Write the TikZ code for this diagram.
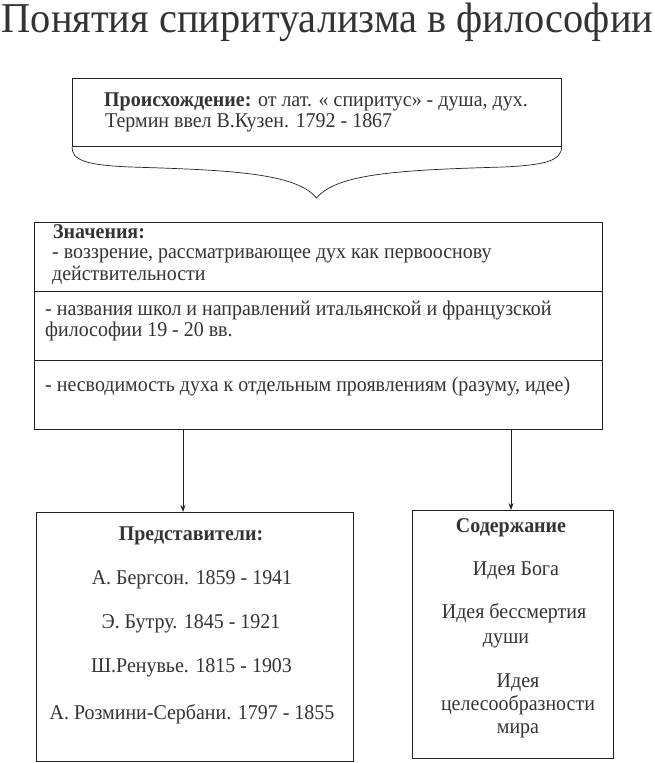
\documentclass[tikz,border=0pt]{standalone}
\usepackage{fontspec}
\setmainfont{Liberation Serif}[FakeStretch=0.95]
\usetikzlibrary{arrows.meta}
\definecolor{ink}{HTML}{333333}
\definecolor{edge}{HTML}{222222}
\begin{document}
\begin{tikzpicture}[x=1pt,y=-1pt,
  box/.style={draw=edge,line width=0.8pt,anchor=north west,inner sep=0pt},
  txt/.style={text=ink,font=\fontsize{21}{24}\selectfont,inner sep=0pt},
  lt/.style={txt,anchor=base west},
  ct/.style={txt,anchor=base},
  arr/.style={draw=edge,line width=0.8pt,-{Stealth[length=7pt,width=5pt]}}]
\useasboundingbox (0,0) rectangle (655,763);
% title
\node[text=ink,font=\fontsize{42.5}{44}\selectfont,anchor=base,inner sep=0pt] (title) at (327.5,32) {Понятия спиритуализма в философии};
% origin box
\node[box,minimum width=489pt,minimum height=68pt] (orig) at (72,78) {};
\node[lt] (o1) at (104,106) {\textbf{Происхождение:} от лат. « спиритус» - душа, дух.};
\node[lt] (o2) at (105,127) {Термин ввел В.Кузен. 1792 - 1867};
% brace
\coordinate (tip) at (316.5,198);
\draw[edge,line width=0.7pt] (orig.south west) .. controls (72,160) and (85,165) .. (130,167)
  .. controls (230,170) and (296,173) .. (tip)
  .. controls (337,173) and (403,170) .. (503,167)
  .. controls (548,165) and (561,160) .. (orig.south east);
% meanings box
\node[box,minimum width=568pt,minimum height=207pt] (mean) at (34,222) {};
\coordinate (d1l) at (34,291); \coordinate (d1r) at (602,291);
\coordinate (d2l) at (34,360); \coordinate (d2r) at (602,360);
\draw[edge,line width=0.8pt] (d1l) -- (d1r);
\draw[edge,line width=0.8pt] (d2l) -- (d2r);
\node[lt] (m0) at (53,238) {\textbf{Значения:}};
\node[lt] (m1) at (52,258) {- воззрение, рассматривающее дух как первооснову};
\node[lt] (m2) at (52,280) {действительности};
\node[lt] (m3) at (45,315) {- названия школ и направлений итальянской и французской};
\node[lt] (m4) at (45,336) {философии 19 - 20 вв.};
\node[lt] (m5) at (45,391) {- несводимость духа к отдельным проявлениям (разуму, идее)};
% representatives box
\node[box,minimum width=317pt,minimum height=249pt] (rep) at (36,512) {};
\node[ct] (r0) at (191,540) {\textbf{Представители:}};
\node[ct] (r1) at (192,584) {А. Бергсон. 1859 - 1941};
\node[ct] (r2) at (191,628) {Э. Бутру. 1845 - 1921};
\node[ct] (r3) at (191.5,672) {Ш.Ренувье. 1815 - 1903};
\node[ct] (r4) at (192,719) {А. Розмини-Сербани. 1797 - 1855};
% content box
\node[box,minimum width=201pt,minimum height=248pt] (cont) at (412,510) {};
\node[ct] (c0) at (511,532) {\textbf{Содержание}};
\node[ct] (c1) at (516,575) {Идея Бога};
\node[ct] (c2) at (514,618) {Идея бессмертия};
\node[ct] (c3) at (506,643) {души};
\node[ct] (c4) at (518,687) {Идея};
\node[ct] (c5) at (518,710) {целесообразности};
\node[ct] (c6) at (518,733) {мира};
% arrows
\coordinate (a1s) at (183,429); \coordinate (a1e) at (183,512);
\coordinate (a2s) at (511,429); \coordinate (a2e) at (511,510);
\draw[arr] (a1s) -- (a1e);
\draw[arr] (a2s) -- (a2e);
\end{tikzpicture}
\end{document}
